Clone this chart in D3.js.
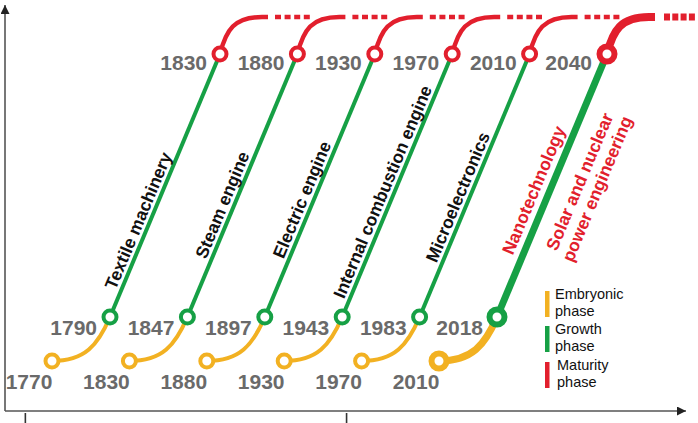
<!DOCTYPE html>
<html><head><meta charset="utf-8">
<script src="https://cdn.jsdelivr.net/npm/d3@7"></script>
<style>body{margin:0;background:#fff} svg{display:block}</style>
</head><body><svg id="c" width="698" height="423"></svg>
<script>
// ---- data ----
const technologies = ["Textile machinery","Steam engine","Electric engine","Internal combustion engine","Microelectronics","Nanotechnology"];
const extraTechnology = ["Solar and nuclear","power engineering"];
const embryonicYears = [1770,1830,1880,1930,1970,2010];
const growthYears    = [1790,1847,1897,1943,1983,2018];
const maturityYears  = [1830,1880,1930,1970,2010,2040];
const phaseNames = [["Embryonic","phase"],["Growth","phase"],["Maturity","phase"]];
const axisTickValues = [-1.1, 3.05]; // in curve-index units

// ---- layout / style ----
const labelAlong = [0.35,0.41,0.43,0.46,0.44,0.46];
const colors = {emb:"#F2B122", gro:"#16A045", mat:"#E21F2D"};
const yearFont = "'Liberation Sans Narrow','Arial Narrow','Liberation Sans',Arial,sans-serif";
const textFont = "'Liberation Sans',Arial,sans-serif";

const svg = d3.select("#c");
const x = d3.scaleLinear().domain([0,5]).range([110,497]);
const y = d3.scaleLinear().domain([0,1,2,3]).range([361,317,54,17]);

// axes
svg.append("defs").append("marker").attr("id","arr").attr("viewBox","0 0 10 10")
  .attr("refX",10).attr("refY",5).attr("markerWidth",14).attr("markerHeight",9)
  .attr("markerUnits","userSpaceOnUse").attr("orient","auto")
  .append("path").attr("d","M0,0L10,5L0,10Z").attr("fill","#222");
svg.append("path").attr("d","M5,411L5,5").attr("stroke","#555").attr("stroke-width",1.6)
  .attr("fill","none").attr("marker-end","url(#arr)");
svg.append("path").attr("d","M5,411L686,411").attr("stroke","#555").attr("stroke-width",1.6)
  .attr("fill","none").attr("marker-end","url(#arr)");
const tickAxis = d3.axisBottom(x).tickValues(axisTickValues).tickSize(10).tickFormat("");
const tg = svg.append("g").attr("transform","translate(0,413)").call(tickAxis);
tg.select(".domain").remove();
tg.selectAll("line").attr("stroke","#333").attr("stroke-width",1.6);

const angle = Math.atan2(y(2)-y(1), 110) * 180/Math.PI;

technologies.forEach((name,i)=>{
  const big = i===5;
  const sw = big?7:4, r = big?7.5:6.5, csw = big?6:4;
  const gx = x(i), sx = gx-58, rx = gx+110;
  const y0=y(0), y1=y(1), y2=y(2), y3=y(3);
  const g = svg.append("g");
  const p1 = d3.path(); p1.moveTo(sx,y0); p1.bezierCurveTo(sx+33,y0,gx-12,y1+28,gx,y1);
  g.append("path").attr("d",p1.toString()).attr("stroke",colors.emb).attr("stroke-width",sw).attr("fill","none");
  const p2 = d3.path(); p2.moveTo(gx,y1); p2.lineTo(rx,y2);
  g.append("path").attr("d",p2.toString()).attr("stroke",colors.gro).attr("stroke-width",sw).attr("fill","none");
  const p3 = d3.path(); p3.moveTo(rx,y2); p3.bezierCurveTo(rx+6,y2-24,rx+14,y3,rx+42,y3); p3.lineTo(rx+48,y3);
  g.append("path").attr("d",p3.toString()).attr("stroke",colors.mat).attr("stroke-width",big?8:4.5).attr("fill","none");
  const p4 = d3.path(); p4.moveTo(rx+(big?57:55),y3); p4.lineTo(rx+90,y3);
  g.append("path").attr("d",p4.toString()).attr("stroke",colors.mat).attr("stroke-width",big?7:4.5)
    .attr("stroke-dasharray",big?"6,2.3":"6,3.6").attr("fill","none");
  [[sx,y0,colors.emb],[gx,y1,colors.gro],[rx,y2,colors.mat]].forEach(([cx,cy,c])=>{
    g.append("circle").attr("cx",cx).attr("cy",cy).attr("r",r).attr("fill","#fff")
      .attr("stroke",c).attr("stroke-width",csw);
  });
  const yl = (t)=>g.append("text").text(t).attr("font-family",yearFont).attr("font-weight","bold")
      .attr("font-size",21).attr("fill","#6a6a6a");
  yl(embryonicYears[i]).attr("x",sx-23).attr("y",y0+28).attr("text-anchor","middle");
  yl(growthYears[i]).attr("x",gx-(big?14:13)).attr("y",y1+18).attr("text-anchor","end");
  yl(maturityYears[i]).attr("x",rx-(big?15:13)).attr("y",y2+16).attr("text-anchor","end");

  const t = labelAlong[i];
  const lx = gx+(rx-gx)*t, ly = y1+(y2-y1)*t;
  const lg = g.append("g").attr("transform",`translate(${lx},${ly}) rotate(${angle})`);
  lg.append("text").text(name).attr("text-anchor","middle").attr("y",big?-9:-5)
    .attr("font-family",textFont).attr("font-weight","bold").attr("font-size",17.5)
    .attr("fill",big?colors.mat:"#111");
  if(big){
    const t2 = 0.55;
    const mx = gx+(rx-gx)*t2, my = y1+(y2-y1)*t2;
    const mg = g.append("g").attr("transform",`translate(${mx},${my}) rotate(${angle})`);
    extraTechnology.forEach((s,k)=>{
      mg.append("text").text(s).attr("text-anchor","middle").attr("y",30+k*19)
        .attr("font-family",textFont).attr("font-weight","bold").attr("font-size",17.5)
        .attr("fill",colors.mat);
    });
  }
});

// legend
const legY = [291,326,362];
const legColors = [colors.emb,colors.gro,colors.mat];
phaseNames.forEach((lines,k)=>{
  svg.append("rect").attr("x",545).attr("y",legY[k]).attr("width",4.5).attr("height",26).attr("fill",legColors[k]);
  lines.forEach((s,j)=>{
    svg.append("text").text(s).attr("x",k===2?557:555).attr("y",legY[k]+8+j*17)
      .attr("font-family",textFont).attr("font-size",14.5).attr("fill","#111");
  });
});
</script></body></html>
